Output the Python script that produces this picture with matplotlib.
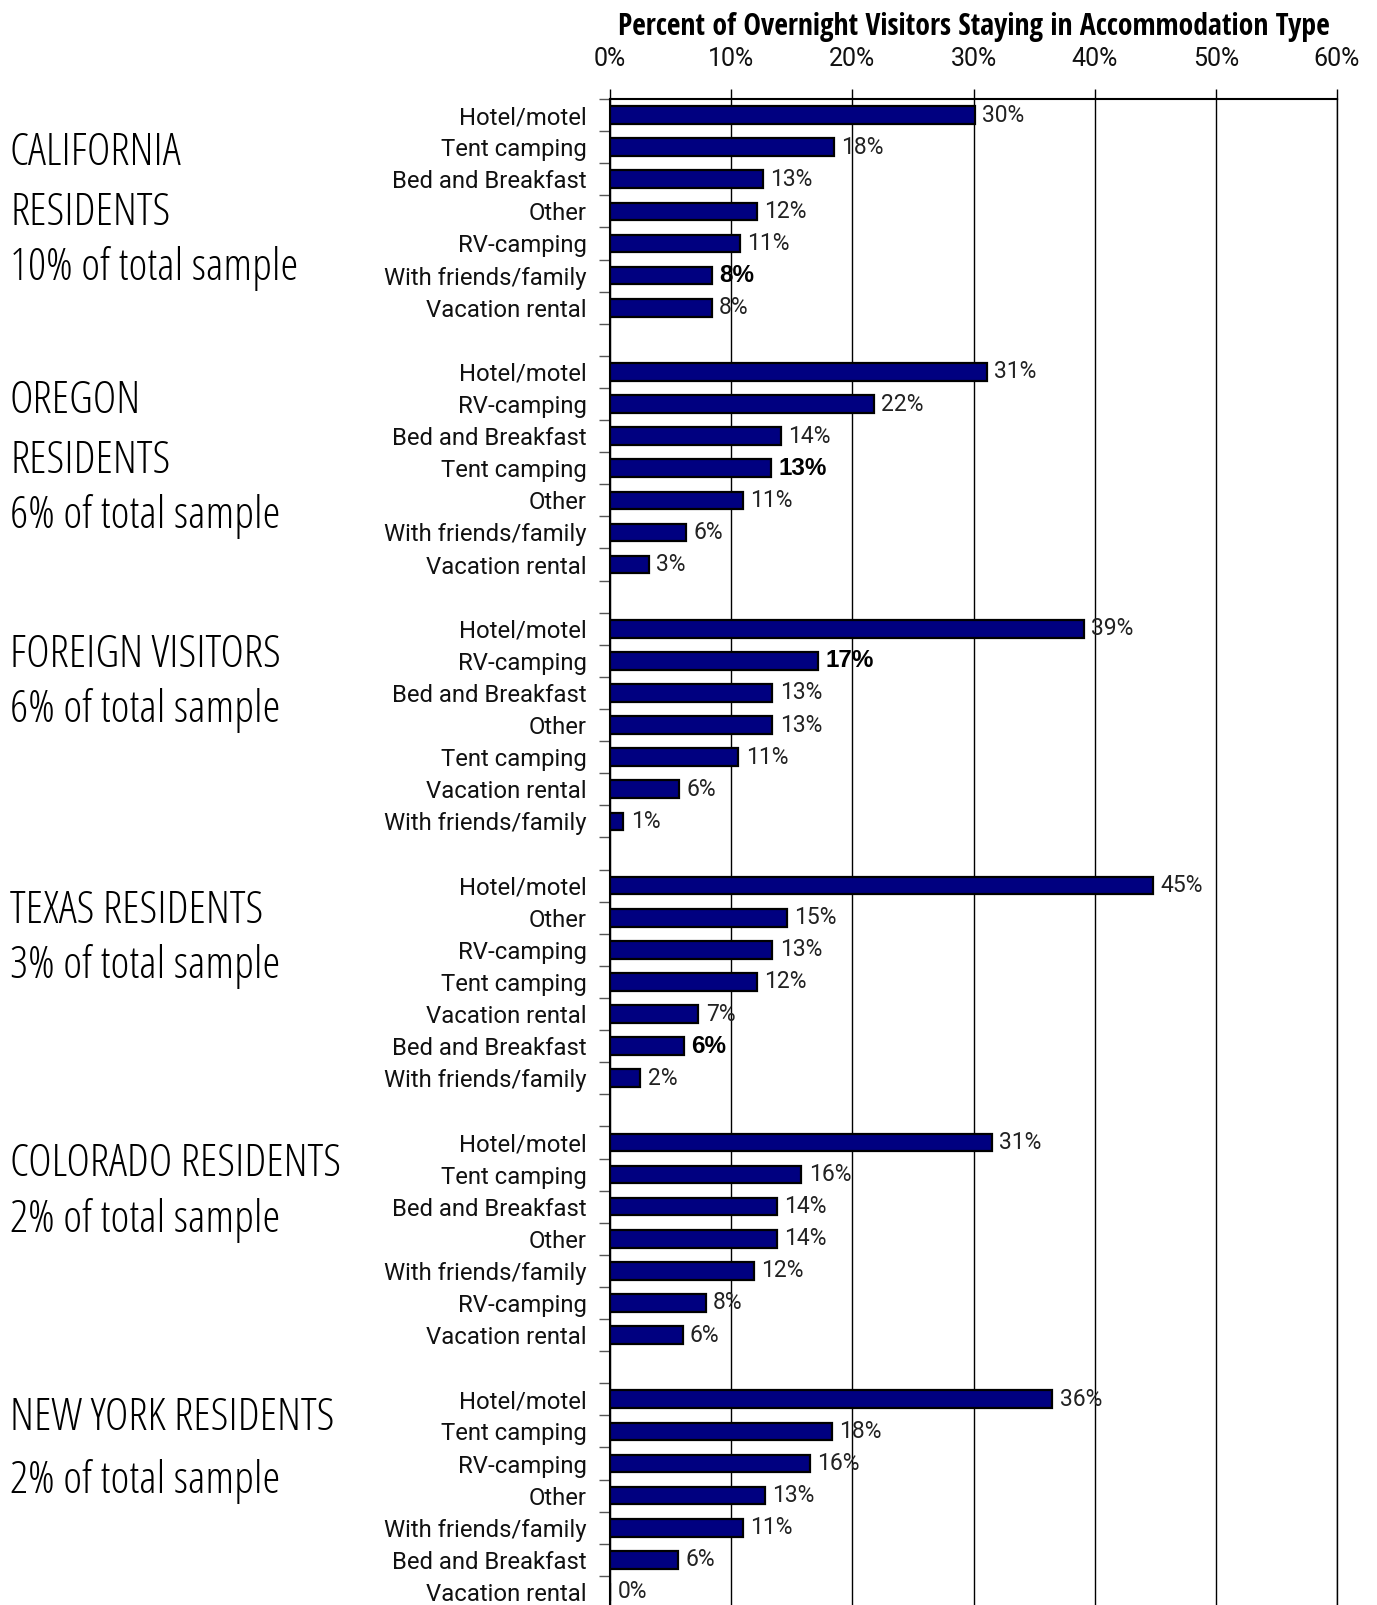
import matplotlib
matplotlib.use("Agg")
import matplotlib.pyplot as plt
import matplotlib.transforms as mtransforms
from matplotlib.ticker import FuncFormatter

plt.rcParams["font.family"] = ["Roboto", "DejaVu Sans"]

# data
groups = ["California", "Oregon", "Foreign", "Texas", "Colorado", "New York"]

group_titles = [
    ["CALIFORNIA", "RESIDENTS", "10% of total sample"],
    ["OREGON", "RESIDENTS", "6% of total sample"],
    ["FOREIGN VISITORS", "6% of total sample"],
    ["TEXAS RESIDENTS", "3% of total sample"],
    ["COLORADO RESIDENTS", "2% of total sample"],
    ["NEW YORK RESIDENTS", "2% of total sample"],
]

cats_ca = ["Hotel/motel", "Tent camping", "Bed and Breakfast", "Other", "RV-camping",
           "With friends/family", "Vacation rental"]
vals_ca = [30.1, 18.5, 12.6, 12.1, 10.7, 8.4, 8.4]
labels_ca = ["30%", "18%", "13%", "12%", "11%", "8%", "8%"]

cats_or = ["Hotel/motel", "RV-camping", "Bed and Breakfast", "Tent camping", "Other",
           "With friends/family", "Vacation rental"]
vals_or = [31.1, 21.8, 14.1, 13.3, 11.0, 6.3, 3.2]
labels_or = ["31%", "22%", "14%", "13%", "11%", "6%", "3%"]

cats_fo = ["Hotel/motel", "RV-camping", "Bed and Breakfast", "Other", "Tent camping",
           "Vacation rental", "With friends/family"]
vals_fo = [39.1, 17.2, 13.4, 13.4, 10.6, 5.7, 1.1]
labels_fo = ["39%", "17%", "13%", "13%", "11%", "6%", "1%"]

cats_tx = ["Hotel/motel", "Other", "RV-camping", "Tent camping", "Vacation rental",
           "Bed and Breakfast", "With friends/family"]
vals_tx = [44.8, 14.6, 13.4, 12.1, 7.3, 6.1, 2.5]
labels_tx = ["45%", "15%", "13%", "12%", "7%", "6%", "2%"]

cats_co = ["Hotel/motel", "Tent camping", "Bed and Breakfast", "Other",
           "With friends/family", "RV-camping", "Vacation rental"]
vals_co = [31.5, 15.8, 13.8, 13.8, 11.9, 7.9, 6.0]
labels_co = ["31%", "16%", "14%", "14%", "12%", "8%", "6%"]

cats_ny = ["Hotel/motel", "Tent camping", "RV-camping", "Other", "With friends/family",
           "Bed and Breakfast", "Vacation rental"]
vals_ny = [36.5, 18.3, 16.5, 12.8, 11.0, 5.6, 0.0]
labels_ny = ["36%", "18%", "16%", "13%", "11%", "6%", "0%"]

# which label is bold in each group (index into the group's list)
bold_idx = [5, 3, 1, 5, None, None]

all_cats = [cats_ca, cats_or, cats_fo, cats_tx, cats_co, cats_ny]
all_vals = [vals_ca, vals_or, vals_fo, vals_tx, vals_co, vals_ny]
all_labels = [labels_ca, labels_or, labels_fo, labels_tx, labels_co, labels_ny]

# vertical offsets of the group titles (in rows, from the group's first bar)
title_offsets = [
    [1.21, 3.06, 4.78],
    [0.93, 2.78, 4.50],
    [0.83, 2.55],
    [0.80, 2.52],
    [0.70, 2.42],
    [0.60, 2.55],
]

W, H = 1377, 1605
fig = plt.figure(figsize=(W / 100, H / 100), dpi=100)
ax = fig.add_axes([610 / W, -3 / H, (1337 - 610) / W, (1605 - 99 + 3) / H])

slot = 8
ypos, ylabels = [], []
for g in range(len(groups)):
    for r, cat in enumerate(all_cats[g]):
        ypos.append(g * slot + r)
        ylabels.append(cat)

widths = [v for vals in all_vals for v in vals]
ax.barh(ypos, widths, height=0.55, color="#000080", edgecolor="black", linewidth=1.6, zorder=3)

for g in range(len(groups)):
    for r, (v, lab) in enumerate(zip(all_vals[g], all_labels[g])):
        y = g * slot + r
        if bold_idx[g] == r:
            ax.text(v + 0.6, y, lab, va="center", ha="left", fontsize=17.5,
                    fontweight="bold", family=["Liberation Sans", "DejaVu Sans"], zorder=4)
        else:
            ax.text(v + 0.6, y, lab, va="center", ha="left", fontsize=16.5,
                    color="#222222", zorder=4)

ax.set_xlim(0, 60)
ax.set_ylim(46.5, -0.5)
ax.set_yticks(ypos)
ax.set_yticklabels(ylabels, fontsize=17.2, color="#111111")
ax.tick_params(axis="y", length=0, pad=17)
# small boundary ticks between rows
ax.set_yticks([i - 0.5 for i in range(0, 48)], minor=True)
ax.tick_params(axis="y", which="minor", length=8, width=1, color="#555555", direction="out")

ax.xaxis.tick_top()
ax.set_xticks(range(0, 61, 10))
ax.xaxis.set_major_formatter(FuncFormatter(lambda x, p: f"{int(x)}%"))
ax.tick_params(axis="x", length=7, width=1, labelsize=18, labelcolor="#111111", pad=13.5)
ax.xaxis.set_label_position("top")
ax.set_xlabel("Percent of Overnight Visitors Staying in Accommodation Type",
              fontsize=21.3, fontweight="bold", family=["Open Sans Condensed", "DejaVu Sans"],
              labelpad=8)

ax.grid(axis="x", color="black", linewidth=1, zorder=0)
ax.spines["right"].set_linewidth(1)
ax.spines["bottom"].set_visible(False)
ax.spines["top"].set_linewidth(1.5)
ax.spines["left"].set_linewidth(1.5)

trans = mtransforms.blended_transform_factory(fig.transFigure, ax.transData)
for g in range(len(groups)):
    for txt, off in zip(group_titles[g], title_offsets[g]):
        ax.text(10 / W, g * slot + off, txt, transform=trans, ha="left", va="center",
                fontsize=32.5, family=["Open Sans", "DejaVu Sans"], fontstretch="condensed",
                fontweight="light", clip_on=False)

fig.savefig("out.png", dpi=100)
